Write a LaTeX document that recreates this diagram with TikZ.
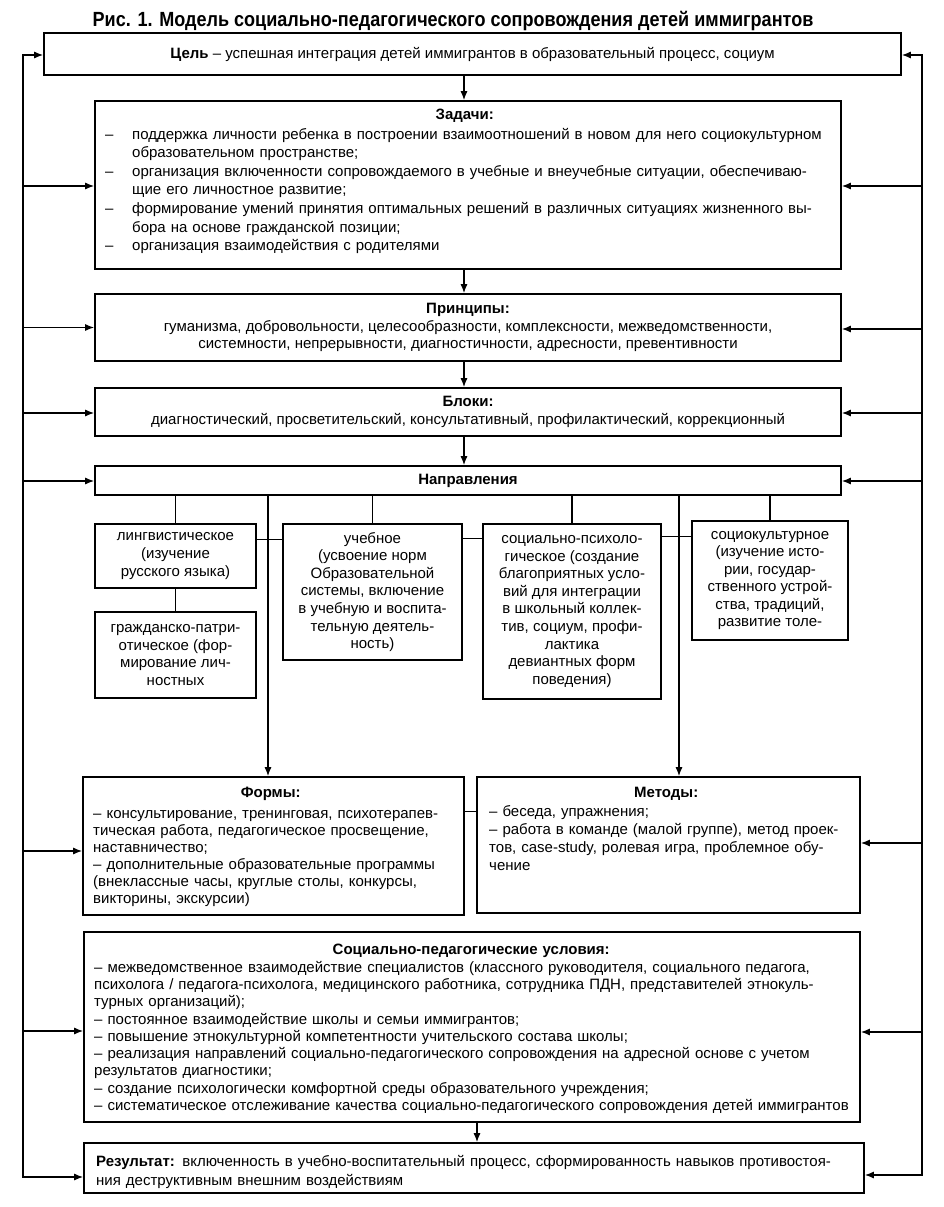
\documentclass[tikz,border=0pt]{standalone}
\usepackage{fontspec}
\setmainfont{Liberation Sans}
\newfontfamily\titlefont{Liberation Sans}[FakeStretch=0.88]
\usetikzlibrary{arrows.meta}
\newcommand{\jl}[2]{\makebox[#1pt][s]{#2}}
\newcommand{\bx}[7]{\node[box, minimum width={(#4)-(#2)}, minimum height={(#5)-(#3)}, #6] (#1) at ({((#2)+(#4))/2},{((#3)+(#5))/2}) {#7};}
\begin{document}
\begin{tikzpicture}[x=1pt,y=-1pt,
  box/.style={draw, line width=1.6pt, inner sep=0pt, font=\fontsize{15}{17.5}\selectfont},
  txt/.style={inner sep=0pt, align=left},
  con/.style={line width=1.3pt},
  arr/.style={line width=1.3pt, -{Latex[length=9pt,width=7pt]}},
]
\useasboundingbox (0,0) rectangle (944,1207);

\node[font=\titlefont\fontsize{20.5}{24}\selectfont\bfseries, inner sep=0pt] (title) at (453,21)
  {Рис. 1. Модель социально-педагогического сопровождения детей иммигрантов};

% boxes
\bx{ziel}{44}{33}{901}{75}{}{\textbf{Цель} – успешная интеграция детей иммигрантов в образовательный процесс, социум}
\bx{zad}{95}{101}{841}{269}{}{}
\bx{prin}{95}{294}{841}{361}{align=center}{\textbf{Принципы:}\\гуманизма, добровольности, целесообразности, комплексности, межведомственности,\\системности, непрерывности, диагностичности, адресности, превентивности}
\bx{blok}{95}{388}{841}{436}{align=center, font=\fontsize{15}{18}\selectfont}{\textbf{Блоки:}\\диагностический, просветительский, консультативный, профилактический, коррекционный}
\bx{napr}{95}{466}{841}{495}{}{\textbf{Направления}}

\bx{ling}{95}{524}{256}{588}{align=center, font=\fontsize{15}{17.6}\selectfont}{лингвистическое\\(изучение\\русского языка)}
\bx{grazh}{95}{612}{256}{698}{align=center, font=\fontsize{15}{17.6}\selectfont}{гражданско-патри-\\отическое (фор-\\мирование лич-\\ностных}
\bx{ucheb}{283}{524}{462}{660}{align=center, font=\fontsize{15}{17.6}\selectfont}{учебное\\(усвоение норм\\Образовательной\\системы, включение\\в учебную и воспита-\\тельную деятель-\\ность)}
\bx{socpsy}{483}{524}{661}{699}{align=center, font=\fontsize{15}{17.6}\selectfont}{социально-психоло-\\гическое (создание\\благоприятных усло-\\вий для интеграции\\в школьный коллек-\\тив, социум, профи-\\лактика\\девиантных форм\\поведения)}
\bx{soccult}{692}{521}{848}{640}{align=center, font=\fontsize{15}{17.4}\selectfont}{социокультурное\\(изучение исто-\\рии, государ-\\ственного устрой-\\ства, традиций,\\развитие толе-}

\bx{forms}{83}{777}{464}{915}{}{}
\bx{meth}{477}{777}{860}{913}{}{}
\bx{usl}{84}{932}{860}{1122}{}{}
\bx{res}{84}{1143}{864}{1193}{}{}

% texts
\node[txt, anchor=base west, text width=719pt, font=\fontsize{15}{18.6}\selectfont] (zadT) at (105,119) {%
\makebox[719pt][c]{\textbf{Задачи:}}\\[1.5pt]
\makebox[27pt][l]{–}\jl{692}{поддержка личности ребенка в построении взаимоотношений в новом для него социокультурном}\\
\hspace*{27pt}образовательном пространстве;\\
\makebox[27pt][l]{–}\jl{692}{организация включенности сопровождаемого в учебные и внеучебные ситуации, обеспечиваю-}\\
\hspace*{27pt}щие его личностное развитие;\\
\makebox[27pt][l]{–}\jl{692}{формирование умений принятия оптимальных решений в различных ситуациях жизненного вы-}\\
\hspace*{27pt}бора на основе гражданской позиции;\\
\makebox[27pt][l]{–}организация взаимодействия с родителями};

\node[txt, anchor=base west, text width=355pt, font=\fontsize{15}{17}\selectfont] (formsT) at (93,797) {%
\makebox[355pt][c]{\textbf{Формы:}}\\[4pt]
\jl{355}{– консультирование, тренинговая, психотерапев-}\\
\jl{355}{тическая работа, педагогическое просвещение,}\\
наставничество;\\
\jl{355}{– дополнительные образовательные программы}\\
(внеклассные часы, круглые столы, конкурсы,\\
викторины, экскурсии)};

\node[txt, anchor=base west, text width=354pt, font=\fontsize{15}{18}\selectfont] (methT) at (489,797) {%
\makebox[354pt][c]{\textbf{Методы:}}\\[1pt]
– беседа, упражнения;\\
\jl{354}{– работа в команде (малой группе), метод проек-}\\
\jl{354}{тов, case-study, ролевая игра, проблемное обу-}\\
чение};

\node[txt, anchor=base west, text width=762pt, font=\fontsize{15}{17.25}\selectfont] (uslT) at (94,954) {%
\makebox[754pt][c]{\textbf{Социально-педагогические условия:}}\\[1pt]
– межведомственное взаимодействие специалистов (классного руководителя, социального педагога,\\
психолога / педагога-психолога, медицинского работника, сотрудника ПДН, представителей этнокуль-\\
турных организаций);\\
– постоянное взаимодействие школы и семьи иммигрантов;\\
– повышение этнокультурной компетентности учительского состава школы;\\
– реализация направлений социально-педагогического сопровождения на адресной основе с учетом\\
результатов диагностики;\\
– создание психологически комфортной среды образовательного учреждения;\\
– систематическое отслеживание качества социально-педагогического сопровождения детей иммигрантов};

\node[txt, anchor=base west, text width=770pt, font=\fontsize{15}{19}\selectfont] (resT) at (96,1166) {%
\textbf{Результат:} включенность в учебно-воспитательный процесс, сформированность навыков противостоя-\\
ния деструктивным внешним воздействиям};

% spines
\coordinate (L1) at (23,55);   \coordinate (R1) at (922,55);
\coordinate (L2) at (23,186);  \coordinate (R2) at (922,186);
\coordinate (L3) at (23,327.5);\coordinate (R3) at (922,329);
\coordinate (L4) at (23,413);  \coordinate (R4) at (922,413);
\coordinate (L5) at (23,481);  \coordinate (R5) at (922,481);
\coordinate (L6) at (23,851);  \coordinate (R6) at (922,843);
\coordinate (L7) at (23,1031); \coordinate (R7) at (922,1032);
\coordinate (L8) at (23,1177); \coordinate (R8) at (922,1175);

\draw[arr] (L8) -- (L1) -- (L1 -| ziel.west);
\draw[arr] (L7) -- (L8) -- (L8 -| res.west);
\draw[arr] (L2) -- (L2 -| zad.west);
\draw[arr] (L3) -- (L3 -| prin.west);
\draw[arr] (L4) -- (L4 -| blok.west);
\draw[arr] (L5) -- (L5 -| napr.west);
\draw[arr] (L6) -- (L6 -| forms.west);
\draw[arr] (L7) -- (L7 -| usl.west);

\draw[arr] (R8) -- (R1) -- (R1 -| ziel.east);
\draw[arr] (R7) -- (R8) -- (R8 -| res.east);
\draw[arr] (R2) -- (R2 -| zad.east);
\draw[arr] (R3) -- (R3 -| prin.east);
\draw[arr] (R4) -- (R4 -| blok.east);
\draw[arr] (R5) -- (R5 -| napr.east);
\draw[arr] (R6) -- (R6 -| meth.east);
\draw[arr] (R7) -- (R7 -| usl.east);

% main vertical chain
\coordinate (cx) at (464,0);
\draw[arr] (ziel.south -| cx) -- (zad.north -| cx);
\draw[arr] (zad.south -| cx) -- (prin.north -| cx);
\draw[arr] (prin.south -| cx) -- (blok.north -| cx);
\draw[arr] (blok.south -| cx) -- (napr.north -| cx);

% branches
\draw[con] (napr.south -| ling.north) -- (ling.north);
\draw[con] (napr.south -| ucheb.north) -- (ucheb.north);
\draw[con] (napr.south -| socpsy.north) -- (socpsy.north);
\draw[con] (napr.south -| soccult.north) -- (soccult.north);
\draw[con] (ling.south) -- (grazh.north);
\coordinate (h1) at ([yshift=-16pt]ling.north east);
\draw[con] (h1) -- (h1 -| ucheb.west);
\coordinate (h2) at ([yshift=-15pt]ucheb.north east);
\draw[con] (h2) -- (h2 -| socpsy.west);
\coordinate (h3) at ([yshift=-13pt]socpsy.north east);
\draw[con] (h3) -- (h3 -| soccult.west);

\coordinate (v1) at (268,0);
\coordinate (v2) at (679,0);
\draw[arr] (napr.south -| v1) -- (forms.north -| v1);
\draw[arr] (napr.south -| v2) -- (meth.north -| v2);
\coordinate (h4) at ([yshift=-35pt]forms.north east);
\draw[con] (h4) -- (h4 -| meth.west);

\coordinate (cx2) at (477,0);
\draw[arr] (usl.south -| cx2) -- (res.north -| cx2);
\end{tikzpicture}
\end{document}
